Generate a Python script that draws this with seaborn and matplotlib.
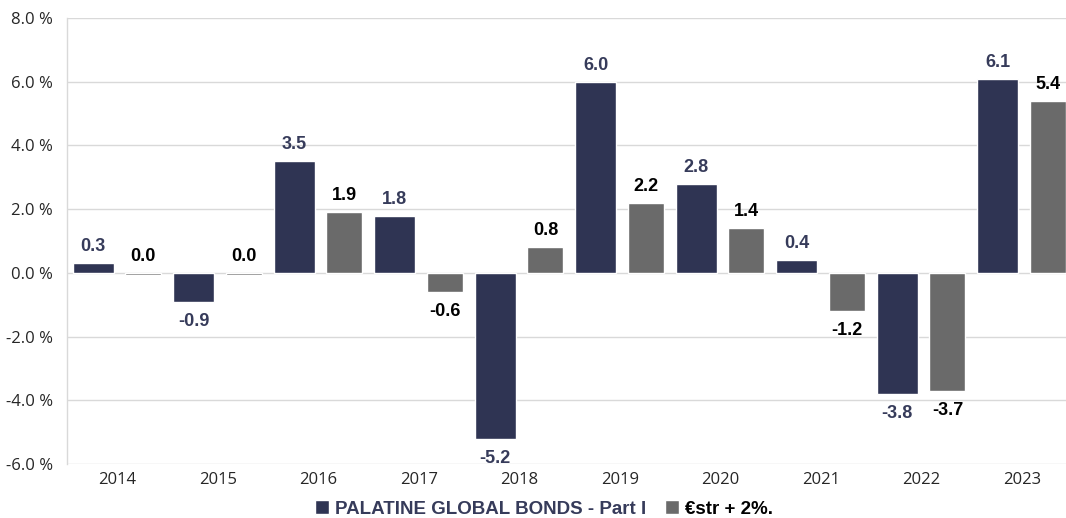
import numpy as np
import pandas as pd
import matplotlib
matplotlib.use('Agg')
import matplotlib.pyplot as plt
import matplotlib.ticker as mtick
from matplotlib.patches import Patch
from matplotlib.font_manager import FontProperties
import seaborn as sns

years = ['2014', '2015', '2016', '2017', '2018', '2019', '2020', '2021', '2022', '2023']
fund_name = 'PALATINE GLOBAL BONDS - Part I'
bench_name = '€str + 2%.'
fund_values = [0.3, -0.9, 3.5, 1.8, -5.2, 6.0, 2.8, 0.4, -3.8, 6.1]
bench_values = [-0.08, -0.08, 1.9, -0.6, 0.8, 2.2, 1.4, -1.2, -3.7, 5.4]
fund_labels = ['0.3', '-0.9', '3.5', '1.8', '-5.2', '6.0', '2.8', '0.4', '-3.8', '6.1']
bench_labels = ['0.0', '0.0', '1.9', '-0.6', '0.8', '2.2', '1.4', '-1.2', '-3.7', '5.4']

NAVY = '#2f3453'
GREY = '#6a6a6a'

df = pd.DataFrame({
    'year': years * 2,
    'value': fund_values + bench_values,
    'series': [fund_name] * len(years) + [bench_name] * len(years),
})

sns.set_style('white')
plt.rcParams['font.family'] = ['Open Sans', 'DejaVu Sans']

fig = plt.figure(figsize=(10.66, 5.18), dpi=100)
ax = fig.add_axes([67 / 1066, 54 / 518, 1005 / 1066, 446 / 518])

sns.barplot(data=df, x='year', y='value', hue='series', order=years,
            palette=[NAVY, GREY], saturation=1, legend=False, ax=ax)

# fund bars are a bit wider than the benchmark bars
offsets = [-0.445, 0.08]
widths = [0.41, 0.36]
label_sets = [fund_labels, bench_labels]
value_sets = [fund_values, bench_values]
label_colors = ['#363b5a', '#000000']
lab_font = FontProperties(family='Liberation Sans', weight='bold', size=13)

for k, cont in enumerate(ax.containers):
    for j, bar in enumerate(cont):
        bar.set_x(j + offsets[k])
        bar.set_width(widths[k])
        xc = j + offsets[k] + widths[k] / 2
        txt = label_sets[k][j]
        v = value_sets[k][j]
        if txt.startswith('-'):
            ax.annotate(txt, (xc, min(v, 0)), xytext=(0, -24), textcoords='offset pixels',
                        ha='center', va='baseline', color=label_colors[k], fontproperties=lab_font)
        else:
            ax.annotate(txt, (xc, max(v, 0)), xytext=(0, 12), textcoords='offset pixels',
                        ha='center', va='baseline', color=label_colors[k], fontproperties=lab_font)

ax.set_xlim(-0.5, 9.5)
ax.set_ylim(-6, 8)
ax.set_yticks(np.arange(-6, 8.1, 2))
ax.yaxis.set_major_formatter(mtick.FuncFormatter(lambda v, p: f'{v:.1f} %'))
ax.set_xlabel('')
ax.set_ylabel('')
ax.yaxis.grid(True, color='#d9d9d9', lw=1)
ax.set_axisbelow(True)
for s in ['top', 'right', 'bottom']:
    ax.spines[s].set_visible(False)
ax.spines['left'].set_color('#d9d9d9')
ax.spines['left'].set_linewidth(1)
ax.tick_params(axis='y', length=0, pad=10, labelsize=12, labelcolor='#262626')
ax.tick_params(axis='x', length=0, pad=6, labelsize=12, labelcolor='#262626')

handles = [Patch(facecolor=NAVY), Patch(facecolor=GREY)]
leg = fig.legend(handles, [fund_name, bench_name], loc='center',
                 bbox_to_anchor=(544 / 1066, 1 - 509 / 518), ncol=2, frameon=False,
                 prop=FontProperties(family='Liberation Sans', weight='bold', size=13.5),
                 handlelength=0.75, handleheight=0.75, handletextpad=0.3,
                 columnspacing=1.0, borderaxespad=0)
leg.get_texts()[0].set_color('#363b5a')
leg.get_texts()[1].set_color('#000000')

fig.savefig('out.png', dpi=100)
